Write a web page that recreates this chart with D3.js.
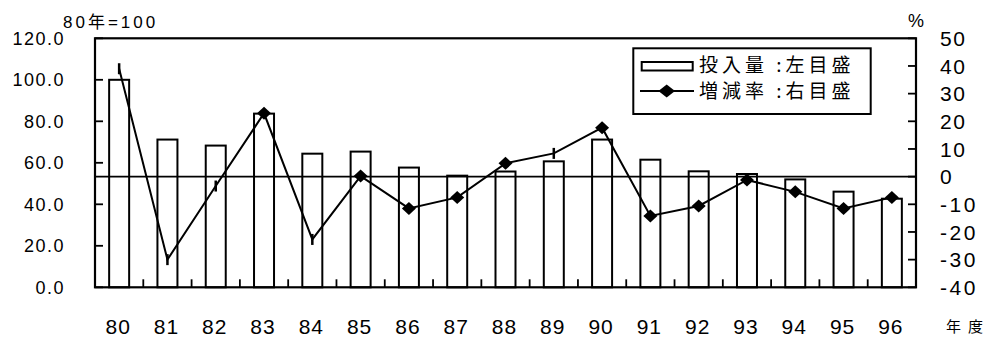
<!DOCTYPE html>
<html>
<head>
<meta charset="utf-8">
<script src="https://cdn.jsdelivr.net/npm/d3@7"></script>
<style>
  html, body { margin: 0; padding: 0; background: #fff; }
  svg { display: block; }
  .num { font-family: "Liberation Sans", Arial, "Noto Sans CJK JP", sans-serif; fill: #000; }
  .jp { font-family: "Noto Sans CJK JP", "Liberation Sans", sans-serif; fill: #000; }
</style>
</head>
<body>
<svg id="chart" width="990" height="337"></svg>
<script>
// Fiscal years (19xx)
const years = ["80", "81", "82", "83", "84", "85", "86", "87", "88", "89", "90", "91", "92", "93", "94", "95", "96"];
// Input volume index, 1980 = 100 (left scale)
const inputIndex = [100, 71.2, 68.3, 83.7, 64.4, 65.4, 57.7, 53.8, 55.8, 60.7, 71.2, 61.5, 55.9, 54.6, 52.0, 46.1, 42.7];
// Year-on-year change, % (right scale)
const changeRate = [39, -30, -3.4, 22.9, -22.7, 0.2, -11.5, -7.5, 4.8, 8.4, 17.7, -14.2, -10.6, -1.2, -5.5, -11.5, -7.5];
// Axis tick values
const leftTicks = [0, 20, 40, 60, 80, 100, 120];
const rightTicks = [-40, -30, -20, -10, 0, 10, 20, 30, 40, 50];
// Years whose markers print as a short vertical stroke instead of a diamond
const strokeMarkerYears = new Set(["80", "81", "82", "84", "89"]);

const svg = d3.select("#chart");
const plot = { left: 95, right: 916, top: 38.3, bottom: 287.3 };

const x = d3.scaleBand().domain(years).range([plot.left, plot.right]).paddingInner(0).paddingOuter(0);
const yL = d3.scaleLinear().domain([0, 120]).range([plot.bottom, plot.top]);
const yR = d3.scaleLinear().domain([-40, 50]).range([plot.bottom, plot.top]);
const cx = d => x(d) + x.bandwidth() / 2;
const barW = 20;

// Bars (input volume index)
svg.append("g").selectAll("rect")
  .data(years.map((y, i) => ({ y, v: inputIndex[i] })))
  .join("rect")
  .attr("x", d => cx(d.y) - barW / 2)
  .attr("y", d => yL(d.v))
  .attr("width", barW)
  .attr("height", d => yL(0) - yL(d.v))
  .attr("fill", "#fff")
  .attr("stroke", "#000")
  .attr("stroke-width", 2);

// Zero line of the right scale
svg.append("line")
  .attr("x1", plot.left).attr("x2", plot.right)
  .attr("y1", yR(0)).attr("y2", yR(0))
  .attr("stroke", "#000").attr("stroke-width", 1.8);

// Change-rate line
const pts = years.map((y, i) => ({ y, v: changeRate[i] }));
svg.append("path")
  .datum(pts)
  .attr("fill", "none")
  .attr("stroke", "#000")
  .attr("stroke-width", 2)
  .attr("d", d3.line().x(d => cx(d.y)).y(d => yR(d.v)));

const diamond = (hw, hh) => `M0,${-hh}L${hw},0L0,${hh}L${-hw},0Z`;
const mk = svg.append("g");
mk.selectAll("path")
  .data(pts.filter(d => !strokeMarkerYears.has(d.y)))
  .join("path")
  .attr("transform", d => `translate(${cx(d.y)},${yR(d.v)})`)
  .attr("d", diamond(7, 6.5))
  .attr("fill", "#000");
mk.selectAll("line")
  .data(pts.filter(d => strokeMarkerYears.has(d.y)))
  .join("line")
  .attr("x1", d => cx(d.y)).attr("x2", d => cx(d.y))
  .attr("y1", d => yR(d.v) - 5.5).attr("y2", d => yR(d.v) + 5.5)
  .attr("stroke", "#000").attr("stroke-width", 2.5);

// Inward ticks
const ticks = svg.append("g").attr("stroke", "#000").attr("stroke-width", 1.8);
leftTicks.forEach(t => ticks.append("line")
  .attr("x1", plot.left).attr("x2", plot.left + 8).attr("y1", yL(t)).attr("y2", yL(t)));
rightTicks.forEach(t => ticks.append("line")
  .attr("x1", plot.right - 8).attr("x2", plot.right).attr("y1", yR(t)).attr("y2", yR(t)));
years.slice(1).forEach(y => ticks.append("line")
  .attr("x1", x(y)).attr("x2", x(y)).attr("y1", plot.bottom).attr("y2", plot.bottom - 8));

// Plot frame
svg.append("rect")
  .attr("x", plot.left).attr("y", plot.top)
  .attr("width", plot.right - plot.left).attr("height", plot.bottom - plot.top)
  .attr("fill", "none").attr("stroke", "#000").attr("stroke-width", 2.2);

// Left axis labels
svg.append("g").selectAll("text")
  .data(leftTicks)
  .join("text")
  .attr("class", "num")
  .attr("x", 65)
  .attr("y", d => yL(d))
  .attr("dy", "0.36em")
  .attr("text-anchor", "end")
  .attr("font-size", 18)
  .attr("letter-spacing", 1.5)
  .text(d => d3.format(".1f")(d));

// Right axis labels
svg.append("g").selectAll("text")
  .data(rightTicks)
  .join("text")
  .attr("class", "num")
  .attr("x", 940)
  .attr("y", d => yR(d))
  .attr("dy", "0.36em")
  .attr("font-size", 21)
  .attr("letter-spacing", d => d < 0 ? 2.5 : 1.5)
  .text(d => d);

// Category labels
svg.append("g").selectAll("text")
  .data(years)
  .join("text")
  .attr("class", "num")
  .attr("x", d => cx(d) - 1)
  .attr("y", 334)
  .attr("text-anchor", "middle")
  .attr("font-size", 21)
  .attr("letter-spacing", 1)
  .text(d => d);

// Axis titles
svg.append("text").attr("class", "num")
  .attr("x", 63).attr("y", 28).attr("font-size", 17).attr("letter-spacing", 3)
  .text("80年=100");
svg.append("text").attr("class", "num")
  .attr("x", 908).attr("y", 27).attr("font-size", 18)
  .text("%");
svg.append("text").attr("class", "jp")
  .attr("x", 946).attr("y", 332).attr("font-size", 15).attr("letter-spacing", 7)
  .text("年度");

// Legend
const lg = svg.append("g");
lg.append("rect")
  .attr("x", 633.3).attr("y", 48.3).attr("width", 237.4).attr("height", 65.7)
  .attr("fill", "#fff").attr("stroke", "#000").attr("stroke-width", 2);
lg.append("rect")
  .attr("x", 641.7).attr("y", 62).attr("width", 51).attr("height", 8.5)
  .attr("fill", "#fff").attr("stroke", "#000").attr("stroke-width", 2);
lg.append("line")
  .attr("x1", 640).attr("x2", 694).attr("y1", 91).attr("y2", 91)
  .attr("stroke", "#000").attr("stroke-width", 2);
lg.append("path")
  .attr("transform", "translate(666.7,91)")
  .attr("d", diamond(8.3, 6.5))
  .attr("fill", "#000");
const legendLabels = ["投入量 :左目盛", "増減率 :右目盛"];
lg.selectAll("text.jp")
  .data(legendLabels)
  .join("text")
  .attr("class", "jp")
  .attr("x", 699)
  .attr("y", (d, i) => [71.5, 98][i])
  .attr("font-size", 19)
  .attr("letter-spacing", 4)
  .text(d => d);
</script>
</body>
</html>
